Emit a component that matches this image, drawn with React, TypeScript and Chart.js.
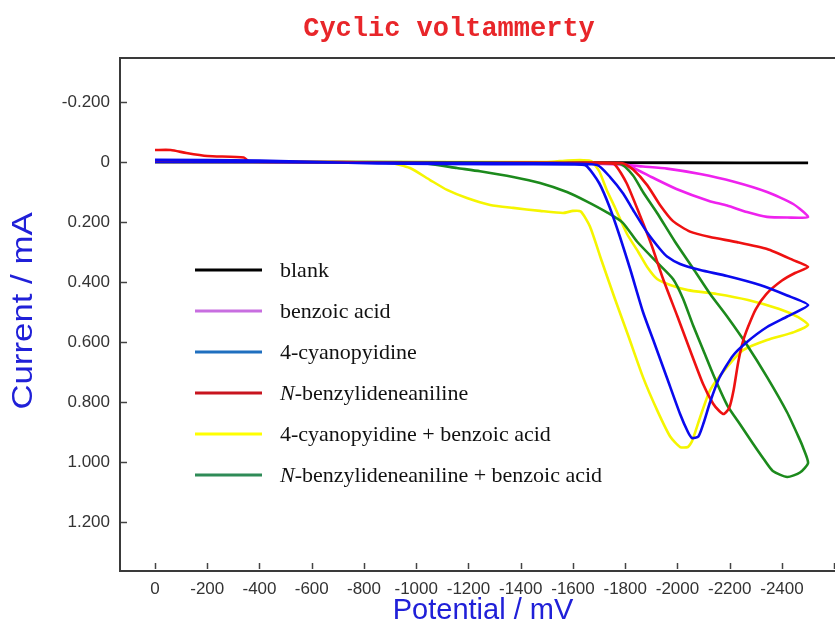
import React, { useEffect, useRef } from 'react';
import { Chart, registerables } from 'chart.js';

Chart.register(...registerables);

// ---------- text ----------
const chartTitle = 'Cyclic voltammerty';
const xAxisTitle = 'Potential / mV';
const yAxisTitle = 'Current / mA';

// ---------- axes ----------
const X_MIN = -2603;
const X_MAX = 134;
const Y_MIN = -0.3467;
const Y_MAX = 1.3633;
const xTickValues = [0, -200, -400, -600, -800, -1000, -1200, -1400, -1600, -1800, -2000, -2200, -2400, -2600];
const xTickHidden = [-2600];
const yTickValues = [-0.2, 0, 0.2, 0.4, 0.6, 0.8, 1.0, 1.2];

// ---------- series ----------
const seriesNames = [
  'blank',
  'benzoic acid',
  '4-cyanopyidine',
  'N-benzylideneaniline',
  '4-cyanopyidine + benzoic acid',
  'N-benzylideneaniline + benzoic acid',
];
const lineColors = ['#000000', '#ee22ee', '#0a0aee', '#ee1111', '#f5f500', '#1c8a1c'];
const legendColors = ['#000000', '#c86ee0', '#1f6fbf', '#c8141e', '#ffff00', '#2e8b57'];
const drawOrder = [5, 4, 0, 1, 3, 2];

// blank
const blankX = [0, -500, -1000, -1500, -2000, -2500, -2000, -1000, 0];
const blankY = [0.0, 0.0, 0.002, 0.002, 0.003, 0.003, 0.002, 0.001, 0.0];

// benzoic acid
const benzoicX = [0, -800, -1500, -1750, -1830, -1900, -1996, -2121, -2190, -2266, -2343, -2420, -2500,
  -2443, -2343, -2213, -2087, -1960, -1868, -1780, -1500, -800, 0];
const benzoicY = [0, 0.002, 0.003, 0.005, 0.02, 0.05, 0.09, 0.13, 0.145, 0.167, 0.183, 0.185, 0.183,
  0.14, 0.1, 0.065, 0.04, 0.022, 0.015, 0.008, 0.003, 0.001, 0];

// 4-cyanopyidine
const cyanoX = [0, -400, -850, -1300, -1600, -1650, -1700, -1740, -1780, -1820, -1868, -1910, -1960, -2010, -2040,
  -2056, -2080, -2100, -2125, -2160, -2213, -2266, -2343, -2420, -2500,
  -2420, -2316, -2190, -2087, -2010, -1960, -1933, -1884, -1830, -1792, -1742, -1692, -1500, -900, -400, 0];
const cyanoY = [-0.007, -0.005, 0.005, 0.007, 0.008, 0.012, 0.07, 0.15, 0.25, 0.36, 0.5, 0.6, 0.72, 0.84, 0.9,
  0.92, 0.915, 0.87, 0.8, 0.72, 0.645, 0.6, 0.55, 0.515, 0.477,
  0.445, 0.41, 0.38, 0.36, 0.34, 0.315, 0.29, 0.235, 0.16, 0.105, 0.05, 0.01, 0.004, 0.003, 0.0, 0.0];

// N-benzylideneaniline
const imineX = [0, -60, -120, -200, -340, -360, -700, -1000, -1400, -1720, -1760, -1805, -1855, -1900, -1945, -2000,
  -2045, -2098, -2136, -2160, -2178, -2198, -2215, -2232, -2250, -2270, -2300, -2340, -2400, -2450, -2500,
  -2443, -2343, -2228, -2125, -2048, -1983, -1933, -1884, -1830, -1790, -1500, -1000, -500, 0];
const imineY = [-0.04, -0.04, -0.03, -0.02, -0.015, -0.002, 0.0, 0.003, 0.003, 0.004, 0.008, 0.07, 0.175, 0.275, 0.39, 0.515,
  0.62, 0.74, 0.805, 0.83, 0.84, 0.82, 0.76, 0.67, 0.6, 0.55, 0.49, 0.44, 0.395, 0.37, 0.35,
  0.327, 0.29, 0.267, 0.25, 0.232, 0.197, 0.143, 0.077, 0.025, 0.004, 0.003, 0.003, 0.0, -0.003];

// 4-cyanopyidine + benzoic acid
const cyanoAcidX = [0, -500, -900, -976, -1053, -1118, -1194, -1283, -1371, -1474, -1562, -1600, -1630, -1665, -1710,
  -1760, -1812, -1868, -1922, -1972, -2010, -2040, -2056, -2087, -2125, -2190, -2251, -2343, -2446, -2500,
  -2462, -2390, -2270, -2150, -2040, -1972, -1922, -1884, -1850, -1807, -1760, -1730, -1700, -1670, -1640, -1580, -1500, -1000, 0];
const cyanoAcidY = [0, 0, 0.003, 0.02, 0.06, 0.093, 0.12, 0.143, 0.153, 0.163, 0.17, 0.163, 0.165, 0.215, 0.33,
  0.455, 0.58, 0.717, 0.827, 0.915, 0.95, 0.95, 0.93, 0.85, 0.76, 0.683, 0.627, 0.593, 0.567, 0.543,
  0.517, 0.49, 0.46, 0.44, 0.427, 0.41, 0.39, 0.35, 0.3, 0.24, 0.15, 0.095, 0.03, -0.003, -0.006, -0.005, 0.0, 0.0, 0];

// N-benzylideneaniline + benzoic acid
const imineAcidX = [0, -500, -1000, -1065, -1156, -1244, -1371, -1474, -1577, -1654, -1730, -1790, -1845, -1922, -1983,
  -2021, -2060, -2100, -2140, -2190, -2240, -2290, -2330, -2365, -2420, -2469, -2500,
  -2480, -2469, -2420, -2343, -2266, -2190, -2125, -2060, -1990, -1922, -1868, -1830, -1780, -1500, -800, 0];
const imineAcidY = [0, 0.0, 0.003, 0.008, 0.02, 0.031, 0.05, 0.07, 0.1, 0.132, 0.168, 0.202, 0.265, 0.335, 0.39,
  0.455, 0.545, 0.63, 0.715, 0.81, 0.875, 0.94, 0.99, 1.03, 1.05, 1.035, 1.003,
  0.95, 0.927, 0.835, 0.717, 0.61, 0.515, 0.44, 0.355, 0.265, 0.17, 0.1, 0.045, 0.006, 0.003, 0.0, 0];

const seriesX = [blankX, benzoicX, cyanoX, imineX, cyanoAcidX, imineAcidX];
const seriesY = [blankY, benzoicY, cyanoY, imineY, cyanoAcidY, imineAcidY];

// ---------- decorations plugin ----------
const decorPlugin = {
  id: 'decor',
  afterDraw(chart: any) {
    const { ctx, chartArea: a, scales } = chart;
    ctx.save();
    // frame
    ctx.strokeStyle = '#3a3a3a';
    ctx.lineWidth = 2;
    ctx.strokeRect(a.left, a.top, a.right - a.left + 4, a.bottom - a.top);
    // inward ticks
    ctx.strokeStyle = '#444';
    ctx.lineWidth = 1.5;
    xTickValues.forEach((v) => {
      const px = Math.round(scales.x.getPixelForValue(v)) + 0.5;
      ctx.beginPath();
      ctx.moveTo(px, a.bottom - 8);
      ctx.lineTo(px, a.bottom - 2);
      ctx.stroke();
    });
    yTickValues.forEach((v) => {
      const py = Math.round(scales.y.getPixelForValue(v)) + 0.5;
      ctx.beginPath();
      ctx.moveTo(a.left + 1, py);
      ctx.lineTo(a.left + 7, py);
      ctx.stroke();
    });
    // title
    ctx.fillStyle = '#e8262a';
    ctx.font = 'bold 27px "Liberation Mono", "DejaVu Sans Mono", monospace';
    ctx.textAlign = 'center';
    ctx.textBaseline = 'middle';
    ctx.fillText(chartTitle, 449, 29);
    // x axis title
    ctx.fillStyle = '#2020d8';
    ctx.font = '29px "Liberation Sans", Arial, sans-serif';
    ctx.fillText(xAxisTitle, 483, 611);
    // y axis title
    ctx.save();
    ctx.translate(24, 311);
    ctx.rotate(-Math.PI / 2);
    ctx.scale(1.2, 1);
    ctx.font = '29px "Liberation Sans", Arial, sans-serif';
    ctx.fillText(yAxisTitle, 0, 0);
    ctx.restore();
    // legend
    const rowY0 = 270;
    const rowGap = 41;
    seriesNames.forEach((name, i) => {
      const y = rowY0 + i * rowGap;
      ctx.strokeStyle = legendColors[i];
      ctx.lineWidth = 3;
      ctx.beginPath();
      ctx.moveTo(195, y);
      ctx.lineTo(262, y);
      ctx.stroke();
      ctx.fillStyle = '#111';
      ctx.textAlign = 'left';
      ctx.textBaseline = 'alphabetic';
      let x = 280;
      let rest = name;
      if (name.startsWith('N-')) {
        ctx.font = 'italic 22px "Liberation Serif", "Times New Roman", serif';
        ctx.fillText('N', x, y + 7);
        x += ctx.measureText('N').width;
        rest = name.slice(1);
      }
      ctx.font = '22px "Liberation Serif", "Times New Roman", serif';
      ctx.fillText(rest, x, y + 7);
    });
    ctx.restore();
  },
};

export default function App() {
  const ref = useRef<HTMLCanvasElement>(null);
  useEffect(() => {
    if (!ref.current) return;
    const datasets = seriesNames.map((name, i) => ({
      label: name,
      data: seriesX[i].map((x, j) => ({ x, y: seriesY[i][j] })),
      borderColor: lineColors[i],
      backgroundColor: lineColors[i],
      borderWidth: 2.6,
      pointRadius: 0,
      showLine: true,
      tension: 0.2,
      fill: false,
      order: drawOrder[i],
    }));
    const chart = new Chart(ref.current, {
      type: 'scatter',
      data: { datasets },
      options: {
        responsive: false,
        animation: false,
        devicePixelRatio: 1,
        layout: { padding: { top: 58, left: 0, right: 0, bottom: 0 } },
        plugins: {
          legend: { display: false },
          tooltip: { enabled: false },
          title: { display: false },
        },
        scales: {
          x: {
            type: 'linear',
            reverse: true,
            min: X_MIN,
            max: X_MAX,
            afterBuildTicks: (s: any) => {
              s.ticks = xTickValues.map((v) => ({ value: v }));
            },
            afterFit: (s: any) => {
              s.height = 57;
              s.paddingLeft = 0;
              s.paddingRight = 0;
            },
            grid: { display: false, drawTicks: false },
            border: { display: false },
            ticks: {
              autoSkip: false,
              maxRotation: 0,
              minRotation: 0,
              padding: 8,
              color: '#333',
              font: { family: '"Liberation Sans", Arial, sans-serif', size: 17 },
              callback: (v: any) => (xTickHidden.includes(Number(v)) ? '' : String(v)),
            },
          },
          y: {
            type: 'linear',
            reverse: true,
            min: Y_MIN,
            max: Y_MAX,
            afterBuildTicks: (s: any) => {
              s.ticks = yTickValues.map((v) => ({ value: v }));
            },
            afterFit: (s: any) => {
              s.width = 120;
              s.paddingTop = 0;
              s.paddingBottom = 0;
            },
            grid: { display: false, drawTicks: false },
            border: { display: false },
            ticks: {
              autoSkip: false,
              padding: 10,
              color: '#333',
              font: { family: '"Liberation Sans", Arial, sans-serif', size: 17 },
              callback: (v: any) => (Number(v) === 0 ? '0' : Number(v).toFixed(3)),
            },
          },
        },
      },
      plugins: [decorPlugin],
    });
    return () => chart.destroy();
  }, []);
  return (
    <div style={{ position: 'fixed', left: 0, top: 0, width: 835, height: 628, background: '#fff' }}>
      <canvas ref={ref} width={835} height={628} style={{ display: 'block', width: 835, height: 628 }} />
    </div>
  );
}
